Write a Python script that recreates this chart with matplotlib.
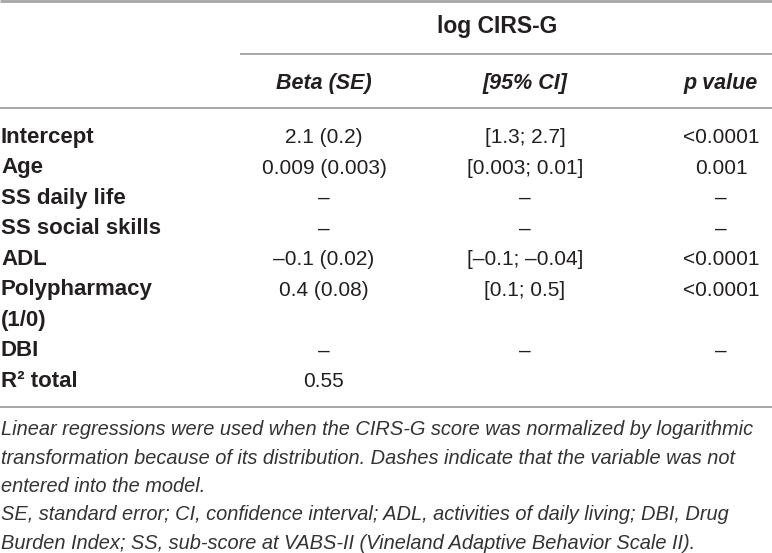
# Regression table for log CIRS-G, drawn as text on a blank axes in pixel coordinates.
import matplotlib.pyplot as plt

# DATA ---------------------------------------------------------------------------------------------
row_labels = ['Intercept', 'Age', 'SS daily life', 'SS social skills', 'ADL',
              'Polypharmacy\n(1/0)', 'DBI', 'R\u00b2 total']
beta_se = ['2.1 (0.2)', '0.009 (0.003)', '\u2013', '\u2013', '\u20130.1 (0.02)',
           '0.4 (0.08)', '\u2013', '0.55']
ci95 = ['[1.3; 2.7]', '[0.003; 0.01]', '\u2013', '\u2013', '[\u20130.1; \u20130.04]',
        '[0.1; 0.5]', '\u2013', '']
p_values = ['<0.0001', '0.001', '\u2013', '\u2013', '<0.0001', '<0.0001', '\u2013', '']
group_title = 'log CIRS-G'
col_titles = ['Beta (SE)', '[95% CI]', 'p value']
footnote = ['Linear regressions were used when the CIRS-G score was normalized by logarithmic',
            'transformation because of its distribution. Dashes indicate that the variable was not',
            'entered into the model.',
            'SE, standard error; CI, confidence interval; ADL, activities of daily living; DBI, Drug',
            'Burden Index; SS, sub-score at VABS-II (Vineland Adaptive Behavior Scale II).']
# --------------------------------------------------------------------------------------------------

W, H = 772, 553
plt.rcParams['font.family'] = ['Liberation Sans', 'DejaVu Sans']
txt = '#231f20'
rule = '#a6a6a6'

fig = plt.figure(figsize=(W / 100, H / 100), dpi=100)
ax = fig.add_axes([0, 0, 1, 1])
ax.set_xlim(0, W)
ax.set_ylim(H, 0)
ax.axis('off')

col_x = [324, 525, 721]
base0, step = 143, 30.5

# rules
ax.plot([0, W], [1, 1], color=rule, lw=2, solid_capstyle='butt')
ax.plot([240, W], [54, 54], color=rule, lw=1.4, solid_capstyle='butt')
ax.plot([0, W], [108, 108], color=rule, lw=1.4, solid_capstyle='butt')
ax.plot([0, W], [407, 407], color=rule, lw=1.4, solid_capstyle='butt')

# headers
ax.text(497, 33, group_title, ha='center', va='baseline', fontsize=16.5,
        fontweight='bold', color=txt)
for x, t in zip(col_x, col_titles):
    ax.text(x, 89, t, ha='center', va='baseline', fontsize=15.5, fontweight='bold',
            fontstyle='italic', color=txt)

# body
slot = 0
for lab, b, c, p in zip(row_labels, beta_se, ci95, p_values):
    y = base0 + step * slot
    for k, line in enumerate(lab.split('\n')):
        ax.text(1, y + step * k, line, ha='left', va='baseline', fontsize=16,
                fontweight='bold', color=txt)
    for x, v in zip(col_x, [b, c, p]):
        ax.text(x, y, v, ha='center', va='baseline', fontsize=15, color=txt)
    slot += len(lab.split('\n'))

# footnote
for k, line in enumerate(footnote):
    ax.text(1, 435 + 28.5 * k, line, ha='left', va='baseline', fontsize=14.4,
            fontstyle='italic', color='#333333')

fig.savefig('out.png', dpi=100)
